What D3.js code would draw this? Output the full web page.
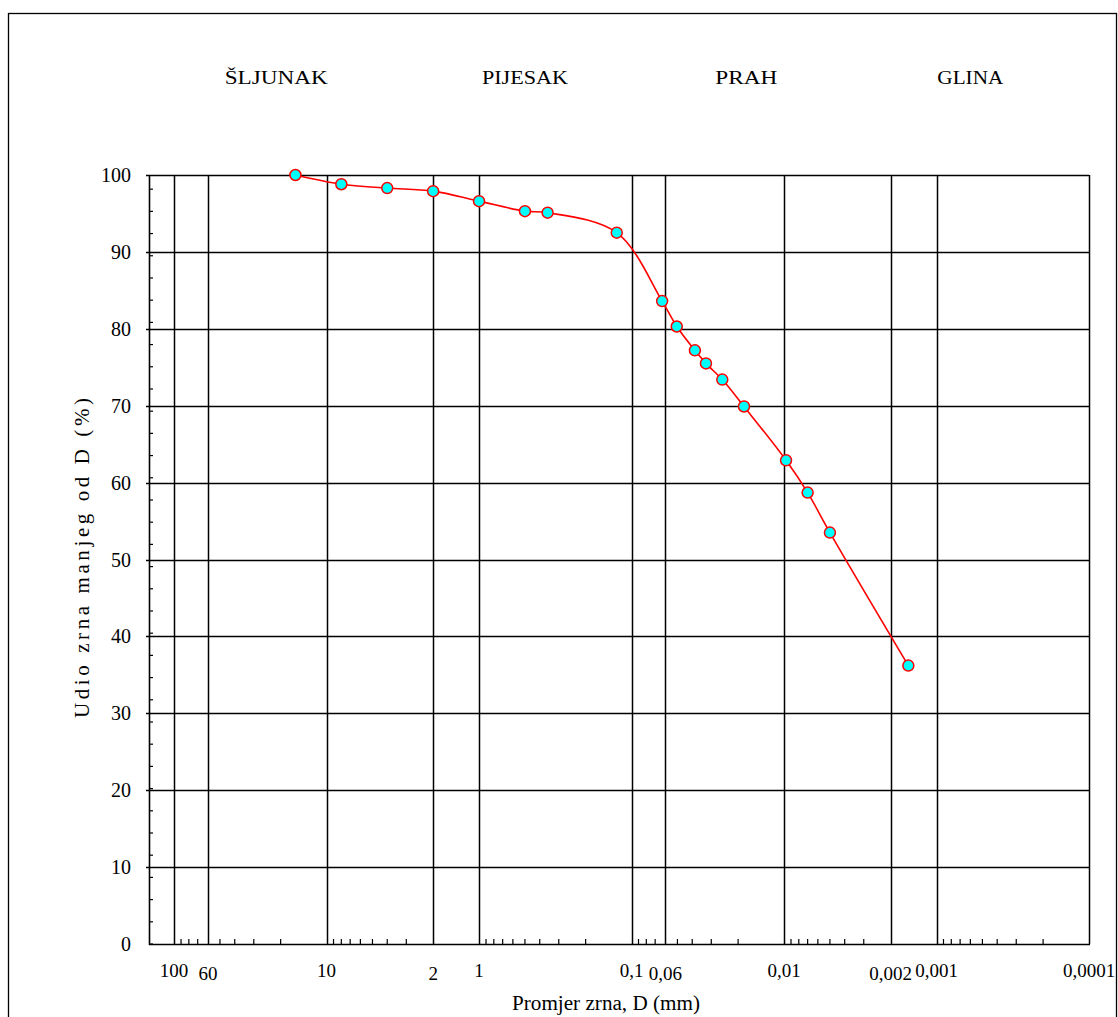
<!DOCTYPE html>
<html>
<head>
<meta charset="utf-8">
<script src="https://cdn.jsdelivr.net/npm/d3@7"></script>
<style>
  html, body { margin: 0; padding: 0; background: #fff; }
  svg { display: block; }
  text { font-family: "Liberation Serif", "Times New Roman", serif; fill: #000; }
</style>
</head>
<body>
<svg id="chart" width="1118" height="1017"></svg>
<script>
// ---- data ----
const grainSizes = [16, 8, 4, 2, 1, 0.5, 0.355, 0.125, 0.063, 0.0505, 0.0384, 0.0325, 0.0254, 0.0183, 0.0097, 0.0070, 0.0050, 0.00153];
const percentFiner = [100, 98.8, 98.3, 97.9, 96.6, 95.3, 95.1, 92.5, 83.6, 80.3, 77.2, 75.5, 73.4, 69.9, 62.9, 58.7, 53.5, 36.2];
const xGridValues = [100, 60, 10, 2, 1, 0.1, 0.06, 0.01, 0.002, 0.001, 0.0001];
const xTickLabels = ["100", "60", "10", "2", "1", "0,1", "0,06", "0,01", "0,002", "0,001", "0,0001"];
const xLoweredLabels = ["60", "2", "0,06", "0,002"];
const yTickValues = [0, 10, 20, 30, 40, 50, 60, 70, 80, 90, 100];
const soilClasses = ["ŠLJUNAK", "PIJESAK", "PRAH", "GLINA"];
const soilClassCentres = [21.4, 0.5, 0.0177, 0.0006];

const svg = d3.select("#chart");
const pLeft = 149, pRight = 1089, pTop = 175, pBottom = 944;

const x = d3.scaleLog().domain([146, 0.0001]).range([pLeft, pRight]);
const y = d3.scaleLinear().domain([0, 100]).range([pBottom, pTop]);

// outer frame
svg.append("rect").attr("x", 8.5).attr("y", 13.5).attr("width", 1108).attr("height", 1020)
  .attr("fill", "none").attr("stroke", "#000").attr("stroke-width", 1.3);

// minor x ticks
const minorX = [];
for (let e = -4; e <= 2; e++) {
  for (let m = 2; m <= 9; m++) {
    const v = m * Math.pow(10, e);
    if (v < 146 && v > 0.0001 && !xGridValues.some(g => Math.abs(g - v) / v < 1e-6)) minorX.push(v);
  }
}
svg.append("g").selectAll("line").data(minorX).join("line")
  .attr("x1", d => x(d)).attr("x2", d => x(d))
  .attr("y1", pBottom).attr("y2", pBottom - 5)
  .attr("stroke", "#000").attr("stroke-width", 1.2);

// minor y ticks
const yMinorStep = 2.887;
const minorY = d3.range(0, 100, yMinorStep);
svg.append("g").selectAll("line").data(minorY).join("line")
  .attr("x1", pLeft).attr("x2", pLeft + 4)
  .attr("y1", d => y(d)).attr("y2", d => y(d))
  .attr("stroke", "#000").attr("stroke-width", 1.2);

// horizontal grid
svg.append("g").selectAll("line").data(yTickValues.filter(v => v > 0)).join("line")
  .attr("x1", pLeft - 3).attr("x2", pRight)
  .attr("y1", d => Math.round(y(d)) + 0.5).attr("y2", d => Math.round(y(d)) + 0.5)
  .attr("stroke", "#000").attr("stroke-width", 1.5);

// vertical grid
svg.append("g").selectAll("line").data(xGridValues).join("line")
  .attr("x1", d => Math.round(x(d)) + 0.5).attr("x2", d => Math.round(x(d)) + 0.5)
  .attr("y1", pTop).attr("y2", pBottom)
  .attr("stroke", "#000").attr("stroke-width", 1.5);

// axes lines
svg.append("line").attr("x1", pLeft + 0.5).attr("x2", pLeft + 0.5).attr("y1", pTop).attr("y2", pBottom + 1)
  .attr("stroke", "#000").attr("stroke-width", 1.6);
svg.append("line").attr("x1", pLeft).attr("x2", pRight + 1).attr("y1", pBottom + 0.5).attr("y2", pBottom + 0.5)
  .attr("stroke", "#000").attr("stroke-width", 1.6);

// y tick labels
svg.append("g").selectAll("text").data(yTickValues).join("text")
  .attr("x", 131).attr("y", d => y(d) + 7)
  .attr("text-anchor", "end").attr("font-size", 20)
  .text(d => d);

// x tick labels
svg.append("g").selectAll("text").data(xGridValues).join("text")
  .attr("x", d => x(d)).attr("y", (d, i) => xLoweredLabels.includes(xTickLabels[i]) ? 980 : 977)
  .attr("text-anchor", "middle").attr("font-size", 19)
  .text((d, i) => xTickLabels[i]);

// soil classes
const classWidths = [103, 86, 62, 66];
svg.append("g").selectAll("text").data(soilClasses).join("text")
  .attr("x", (d, i) => x(soilClassCentres[i]) - classWidths[i] / 2).attr("y", 84)
  .attr("font-size", 19)
  .attr("textLength", (d, i) => classWidths[i]).attr("lengthAdjust", "spacingAndGlyphs")
  .text(d => d);

// axis titles
svg.append("text").attr("x", 512).attr("y", 1010)
  .attr("font-size", 20).attr("textLength", 188).attr("lengthAdjust", "spacingAndGlyphs")
  .text("Promjer zrna, D (mm)");
svg.append("text").attr("transform", "translate(89,718) rotate(-90)")
  .attr("font-size", 21).attr("textLength", 320).attr("lengthAdjust", "spacing")
  .text("Udio zrna manjeg od D (%)");

// curve
const pts = grainSizes.map((d, i) => [x(d), y(percentFiner[i])]);
svg.append("path").attr("d", d3.line().curve(d3.curveCatmullRom.alpha(0.5))(pts))
  .attr("fill", "none").attr("stroke", "#ff0000").attr("stroke-width", 1.6);

svg.append("g").selectAll("circle").data(pts).join("circle")
  .attr("cx", d => d[0]).attr("cy", d => d[1]).attr("r", 5.5)
  .attr("fill", "#00ffff").attr("stroke", "#ff0000").attr("stroke-width", 1.5);
</script>
</body>
</html>
